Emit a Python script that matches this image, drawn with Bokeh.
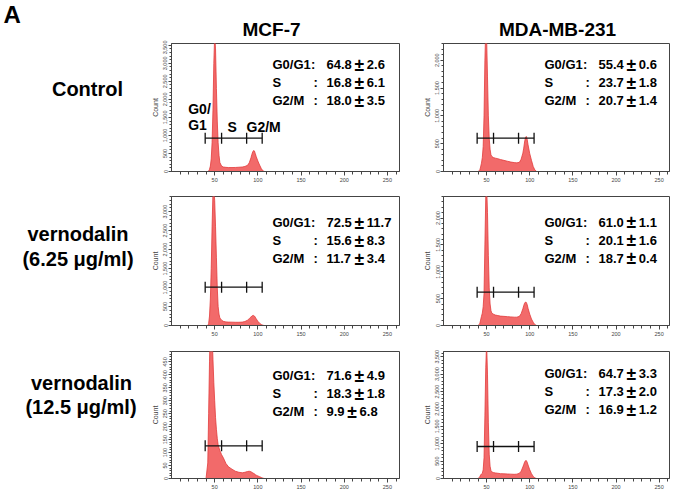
import math
from bokeh.plotting import figure
from bokeh.layouts import column, row
from bokeh.models import Range1d, FixedTicker, SingleIntervalTicker, NumeralTickFormatter
from bokeh.core.properties import value
from bokeh.embed import file_html
from bokeh.resources import INLINE

# ---------------- data ----------------
panel_letter = "A"
cell_lines = ["MCF-7", "MDA-MB-231"]
treatment_lines = [["Control"], ["vernodalin", "(6.25 μg/ml)"], ["vernodalin", "(12.5 μg/ml)"]]

dna_content = [38, 40, 42, 43, 44, 45, 46, 47, 48, 49, 50, 51, 52, 53, 54, 55, 56, 58, 60, 63,
               66, 70, 74, 78, 82, 85, 88, 90, 92, 93, 94, 95, 96, 97, 98, 100, 102, 104, 106, 108]

count_mcf7_control = [0, 0, 0, 10, 60, 150, 350, 800, 1700, 3000, 3800, 3400, 2300, 1400, 800, 450, 250, 150, 125, 115,
                      110, 110, 112, 118, 125, 140, 170, 240, 380, 470, 540, 580, 570, 500, 420, 290, 180, 80, 15, 0]
count_mda_control = [0, 0, 20, 80, 150, 250, 450, 1000, 2000, 2600, 2400, 1700, 1000, 600, 400, 300, 270, 250, 240, 230,
                     215, 200, 185, 170, 160, 155, 165, 220, 330, 420, 530, 610, 630, 580, 480, 320, 200, 90, 25, 0]
count_mcf7_625 = [0, 0, 0, 50, 250, 700, 1500, 2600, 3500, 3600, 3300, 2600, 1800, 1000, 500, 300, 200, 140, 110, 95,
                  90, 88, 85, 85, 90, 105, 140, 180, 225, 250, 262, 265, 250, 220, 180, 110, 60, 25, 5, 0]
count_mda_625 = [0, 0, 30, 100, 170, 230, 350, 600, 1500, 2400, 2600, 2100, 1300, 700, 400, 280, 230, 210, 195, 185,
                 175, 170, 165, 160, 155, 155, 170, 220, 310, 370, 415, 435, 430, 390, 320, 210, 120, 60, 15, 0]
count_mcf7_125 = [0, 0, 60, 250, 450, 600, 620, 560, 460, 370, 300, 235, 190, 155, 130, 118, 108, 92, 80, 58,
                  45, 36, 28, 24, 22, 24, 27, 28, 26, 24, 22, 20, 18, 15, 13, 10, 7, 4, 1, 0]
count_mda_125 = [0, 0, 40, 100, 130, 150, 250, 600, 1800, 3200, 3900, 3000, 1600, 700, 350, 230, 190, 170, 160, 150,
                 140, 135, 130, 125, 120, 125, 150, 210, 330, 400, 470, 510, 515, 470, 390, 250, 140, 60, 15, 0]

phase_names = ["G0/G1", "S", "G2/M"]
g0g1_mean = [64.8, 55.4, 72.5, 61.0, 71.6, 64.7]
g0g1_sd = [2.6, 0.6, 11.7, 1.1, 4.9, 3.3]
s_mean = [16.8, 23.7, 15.6, 20.1, 18.3, 17.3]
s_sd = [6.1, 1.8, 8.3, 1.6, 1.8, 2.0]
g2m_mean = [18.0, 20.7, 11.7, 18.7, 9.9, 16.9]
g2m_sd = [3.5, 1.4, 3.4, 0.4, 6.8, 1.2]

count_axis_max = [3550, 2300, 3400, 2400, 490, 3650]
count_tick_step = [500, 500, 500, 500, 50, 500]
x_axis_max = [264, 262]
x_tick_labels = [50, 100, 150, 200, 250]
x_minor_ticks = list(range(10, 261, 10))
gate_bounds = [39, 58, 87, 105]
gate_level = [924, 598, 1009, 620, 126, 920]

panel_counts = [count_mcf7_control, count_mda_control, count_mcf7_625,
                count_mda_625, count_mcf7_125, count_mda_125]

# ---------------- style / layout ----------------
FONT = value("Liberation Sans")
FILL = "#f26a6a"
EDGE = "#e23b3b"
TITLE_H = 40
LABEL_W = 140
row_heights = [153, 155, 147]
row_bottoms = [22, 23, 17]
BORDER_TOP = 3
BORDER_LEFT = 31
panel_widths = [272, 263]
border_rights = [13, 6]
stat_top = [21, 21, 26, 25.7, 24, 22]
LINE_STEP = 18
STAT_FS = 13


def txt(p, x, y, s, size, align="left", baseline="middle", x_offset=0, style="bold", color="black"):
    p.text(x=[x], y=[y], text=[s], text_font=FONT, text_font_style=style,
           text_font_size=f"{size}px", text_align=align, text_baseline=baseline,
           x_offset=x_offset, text_color=color)


def make_panel(idx, r, c):
    ymax = count_axis_max[idx]
    xmax = x_axis_max[c]
    width = panel_widths[c]
    height = row_heights[r]
    frame_w = width - BORDER_LEFT - border_rights[c]
    frame_h = height - BORDER_TOP - row_bottoms[r]
    p = figure(width=width, height=height, x_range=Range1d(0, xmax), y_range=Range1d(0, ymax),
               output_backend="svg", toolbar_location=None,
               min_border_left=BORDER_LEFT, min_border_right=border_rights[c],
               min_border_top=BORDER_TOP, min_border_bottom=row_bottoms[r])
    p.xgrid.visible = False
    p.ygrid.visible = False
    p.outline_line_color = "#444444"
    p.outline_line_width = 1

    ys = panel_counts[idx]
    p.varea(x=dna_content, y1=[0] * len(dna_content), y2=ys, fill_color=FILL)
    p.line(dna_content, ys, line_color=EDGE, line_width=0.8)

    gy = gate_level[idx]
    p.segment(x0=[gate_bounds[0]], y0=[gy], x1=[gate_bounds[-1]], y1=[gy], line_color="#111111", line_width=1.3)
    p.scatter(x=gate_bounds, y=[gy] * len(gate_bounds), marker="dash", angle=math.pi / 2, size=11,
              line_color="#111111", line_width=1.3)

    xa = p.xaxis[0]
    xa.ticker = FixedTicker(ticks=x_tick_labels, minor_ticks=x_minor_ticks)
    xa.major_label_text_font_size = "5.5px"
    xa.major_label_text_font = "Liberation Sans"
    xa.major_label_text_color = "#444444"
    xa.major_label_standoff = 2
    xa.major_tick_in = 0
    xa.major_tick_out = 4
    xa.minor_tick_in = 0
    xa.minor_tick_out = 3
    xa.axis_line_color = "#444444"
    xa.major_tick_line_color = "#444444"
    xa.minor_tick_line_color = "#444444"

    ya = p.yaxis[0]
    ya.ticker = SingleIntervalTicker(interval=count_tick_step[idx], num_minor_ticks=5)
    ya.formatter = NumeralTickFormatter(format="0,0")
    ya.major_label_orientation = "vertical"
    ya.major_label_text_font_size = "5.5px"
    ya.major_label_text_font = "Liberation Sans"
    ya.major_label_text_color = "#444444"
    ya.major_label_standoff = 1
    ya.major_tick_in = 0
    ya.major_tick_out = 3
    ya.minor_tick_in = 0
    ya.minor_tick_out = 2
    ya.axis_line_color = "#444444"
    ya.major_tick_line_color = "#444444"
    ya.minor_tick_line_color = "#444444"
    ya.axis_label = "Count"
    ya.axis_label_text_font = "Liberation Sans"
    ya.axis_label_text_font_size = "7px"
    ya.axis_label_text_font_style = "normal"
    ya.axis_label_text_color = "#444444"
    ya.axis_label_standoff = 2

    px2x = xmax / frame_w
    x0 = 101 * px2x
    stats = [(g0g1_mean[idx], g0g1_sd[idx]), (s_mean[idx], s_sd[idx]), (g2m_mean[idx], g2m_sd[idx])]
    colon_off = [38.5, 41, 41]
    for i, (name, (m, sd)) in enumerate(zip(phase_names, stats)):
        yy = ymax * (1 - (stat_top[idx] + i * LINE_STEP) / frame_h)
        ms = f"{m:.1f}"
        w_mean = ((len(ms) - 1) * 0.556 + 0.278) * STAT_FS
        txt(p, x0, yy, name, STAT_FS)
        txt(p, x0, yy, ":", STAT_FS, x_offset=colon_off[i])
        txt(p, x0, yy, ms, STAT_FS, x_offset=54)
        txt(p, x0, yy, "±", 17.5, align="center", x_offset=54 + w_mean + 7.5)
        txt(p, x0, yy, f"{sd:.1f}", STAT_FS, x_offset=54 + w_mean + 15)

    if idx == 0:
        def ypos(off):
            return ymax * (1 - off / frame_h)
        txt(p, 16.7 * px2x, ypos(65), "G0/", 14)
        txt(p, 16.7 * px2x, ypos(81), "G1", 14)
        txt(p, 56 * px2x, ypos(83), "S", 14)
        txt(p, 75 * px2x, ypos(83), "G2/M", 14)
    return p


total_w = LABEL_W + sum(panel_widths)
title_fig = figure(width=total_w, height=TITLE_H, x_range=Range1d(0, total_w), y_range=Range1d(TITLE_H, 0),
                   output_backend="svg", toolbar_location=None, x_axis_type=None, y_axis_type=None,
                   min_border=0, outline_line_color=None)
title_fig.xgrid.visible = False
title_fig.ygrid.visible = False
txt(title_fig, 3, 14, panel_letter, 24)
txt(title_fig, 271, 29, cell_lines[0], 19, align="center")
txt(title_fig, 557, 29, cell_lines[1], 19, align="center")

label_h = sum(row_heights)
label_fig = figure(width=LABEL_W, height=label_h, x_range=Range1d(0, LABEL_W),
                   y_range=Range1d(label_h, 0), output_backend="svg", toolbar_location=None,
                   x_axis_type=None, y_axis_type=None, min_border=0, outline_line_color=None)
label_fig.xgrid.visible = False
label_fig.ygrid.visible = False
label_pos = [[(87, 48.5)], [(77.5, 193), (77.5, 218)], [(81, 342), (80.5, 366)]]
for lines, poss in zip(treatment_lines, label_pos):
    for s, (lx, ly) in zip(lines, poss):
        txt(label_fig, lx, ly, s, 20, align="center")

rows = []
for r in range(3):
    left = make_panel(2 * r, r, 0)
    right = make_panel(2 * r + 1, r, 1)
    rows.append(row(left, right, spacing=0))

layout = column(title_fig, row(label_fig, column(*rows, spacing=0), spacing=0), spacing=0)

open("out.html", "w").write(file_html(layout, INLINE))
